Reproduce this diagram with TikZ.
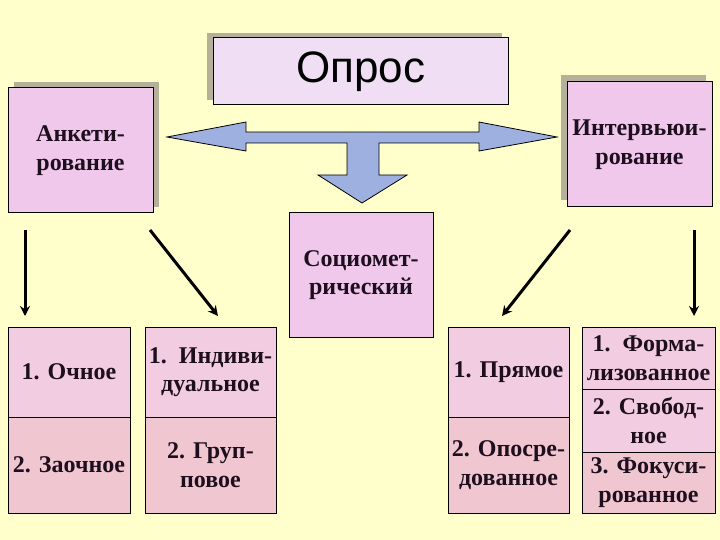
\documentclass[tikz,border=0pt]{standalone}
\usepackage{fontspec}
\setmainfont{Liberation Serif}
\newfontfamily\sansf{Liberation Sans}
\usetikzlibrary{shadows,arrows.meta}
\definecolor{bgc}{HTML}{FFFFCC}
\definecolor{oprosc}{HTML}{F0DEF5}
\definecolor{mainc}{HTML}{F0C8EC}
\definecolor{cellA}{HTML}{F2CDE1}
\definecolor{cellB}{HTML}{F0C6D0}
\definecolor{shadc}{HTML}{B4B09A}
\definecolor{arrc}{HTML}{9DB0E0}
\definecolor{txtc}{HTML}{1E0F1E}
\begin{document}
\begin{tikzpicture}[x=1pt,y=-1pt,
  bx/.style={draw=black,line width=1pt,inner sep=0pt,align=center,text=txtc,
    font=\bfseries\fontsize{24}{28.5}\selectfont},
  bigbox/.style={bx,fill=mainc,minimum width=145pt,minimum height=125pt},
  cella/.style={bx,fill=cellA},
  cellb/.style={bx,fill=cellB},
  arr/.style={line width=3pt,-{Stealth[length=10pt,width=10pt]}},
  bigarrow/.style={fill=arrc,draw=black,line width=0.8pt,line join=miter}]
\fill[bgc] (0,0) rectangle (720,540);
\useasboundingbox (0,0) rectangle (720,540);

% title
\node[bx,fill=oprosc,minimum width=295pt,minimum height=67pt,
  font=\sansf\fontsize{44}{50}\selectfont,text=black,
  general shadow={shadow xshift=-6pt,shadow yshift=5pt,fill=shadc}]
  (opros) at (360.5,71.5) {Опрос};

\node[bigbox,general shadow={shadow xshift=6pt,shadow yshift=6pt,fill=shadc}]
  (anket) at (80.5,150.5) {Анкети-\\рование};
\node[bigbox,general shadow={shadow xshift=-6pt,shadow yshift=7pt,fill=shadc}]
  (interv) at (639.5,144.5) {Интервьюи-\\рование};
\node[bigbox,minimum width=144pt,minimum height=124pt]
  (sociom) at (361,275) {Социомет-\\рический};

% big three-way arrow
\draw[bigarrow] (167,137) -- (246,122) -- (246,132) -- (479,132) -- (479,122)
  -- (557,137) -- (479,151) -- (479,143) -- (379,143) -- (379,175)
  -- (407,175) -- (362,203) -- (318,175) -- (347,175) -- (347,143)
  -- (246,143) -- (246,151) -- cycle;

% lower cells
\node[cella,minimum width=122pt,minimum height=90pt] (c1a) at (69,372) {1. Очное};
\node[cellb,minimum width=122pt,minimum height=96pt] (c1b) at (69,465) {2. Заочное};
\node[cella,minimum width=131pt,minimum height=90pt] (c2a) at (210.5,372) {1.\enspace Индиви-\\дуальное};
\node[cellb,minimum width=131pt,minimum height=96pt] (c2b) at (210.5,465) {2. Груп-\\повое};
\node[cella,minimum width=121pt,minimum height=90pt] (c3a) at (508.5,372) {1. Прямое};
\node[cellb,minimum width=121pt,minimum height=96pt] (c3b) at (508.5,465) {2. Опосре-\\дованное};
\node[cella,minimum width=133pt,minimum height=62pt] (c4a) at (648.5,358) {1.\enspace Форма-\\лизованное};
\node[cella,minimum width=133pt,minimum height=63pt] (c4b) at (648.5,420.5) {2. Свобод-\\ное};
\node[cellb,minimum width=133pt,minimum height=61pt] (c4c) at (648.5,482.5) {3. Фокуси-\\рованное};

% thin arrows
\coordinate (s1) at (25,230);  \coordinate (e1) at (25,316);
\coordinate (s2) at (150,230); \coordinate (e2) at (218,316);
\coordinate (s3) at (570,230); \coordinate (e3) at (502,316);
\coordinate (s4) at (694,230); \coordinate (e4) at (694,316);
\draw[arr] (s1) -- (e1);
\draw[arr] (s2) -- (e2);
\draw[arr] (s3) -- (e3);
\draw[arr] (s4) -- (e4);
\end{tikzpicture}
\end{document}
